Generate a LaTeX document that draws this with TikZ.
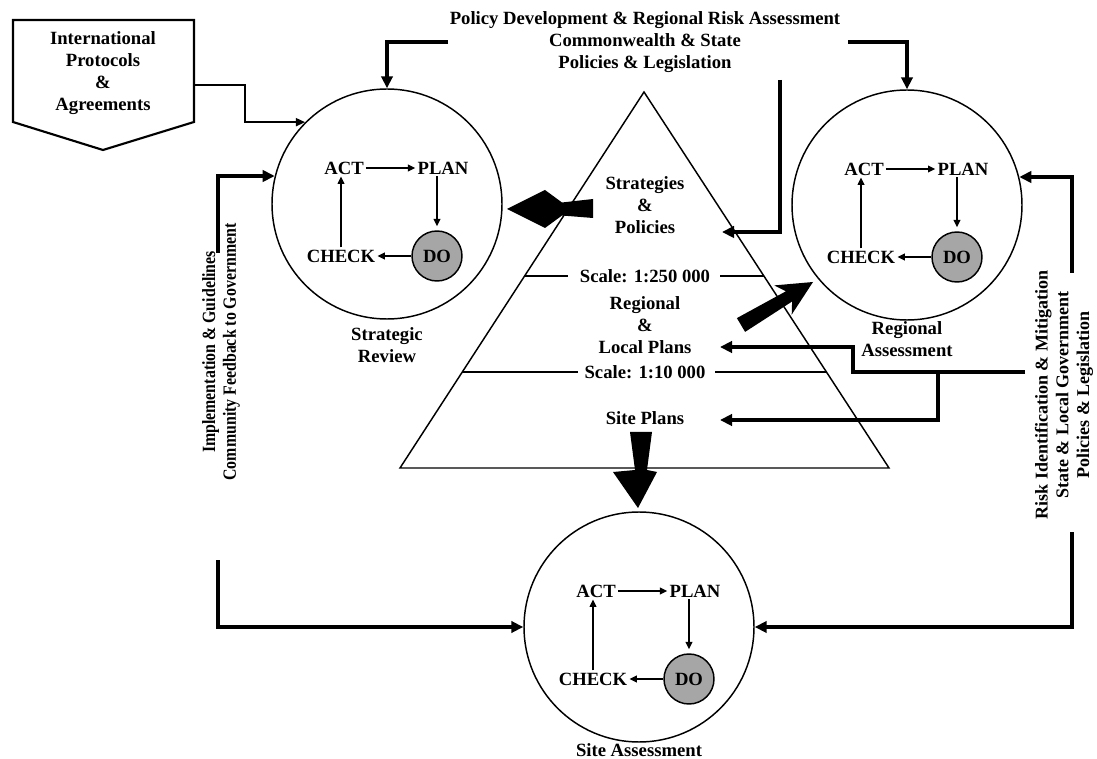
\documentclass[tikz,border=0pt]{standalone}
\usepackage{fontspec}
\setmainfont{Liberation Serif}
\newfontfamily\condserif[FakeStretch=0.85]{Liberation Serif}
\usetikzlibrary{arrows.meta,calc}
\newcommand\pdcaset[3]{%
  \node[lbl] (#1act) at (#2-43,#3-36) {ACT};
  \node[lbl] (#1plan) at (#2+56,#3-36) {PLAN};
  \node[lbl] (#1check) at (#2-46,#3+52) {CHECK};
  \node[docirc] (#1do) at (#2+50,#3+52) {DO};
  \draw[smallarr] (#1act) -- (#1plan);
  \draw[smallarr, shorten >=3pt] (#1do.north |- #1plan.south) -- (#1do.north);
  \draw[smallarr] (#1do) -- (#1check);
  \draw[smallarr] (#1check.north) -- (#1check.north |- #1act.south);
}
\tikzset{
  lbl/.style={font=\fontsize{14}{16.5}\selectfont\bfseries, align=center, inner sep=1.5pt},
  rlbl/.style={font=\fontsize{13.5}{15.5}\selectfont\bfseries, align=center, inner sep=1pt},
  bigcirc/.style={draw, circle, line width=1.1pt, minimum size=172.5pt, inner sep=0pt},
  docirc/.style={draw, circle, fill=black!35, line width=1.1pt, minimum size=37.5pt, inner sep=0pt,
    font=\fontsize{14}{16}\selectfont\bfseries},
  conn/.style={line width=2.3pt, -{Triangle[length=9pt,width=8.5pt]}},
  thinconn/.style={line width=1.5pt, -{Triangle[length=7pt,width=6pt]}},
  smallarr/.style={line width=1.1pt, -{Triangle[length=5.5pt,width=5pt]}},
  edgeline/.style={line width=1.1pt},
  bigarrow/.style={fill=black, draw=none},
}
\begin{document}
\begin{tikzpicture}[x=0.75pt,y=-0.75pt]
\useasboundingbox (0,0) rectangle (1097,759);

% pentagon
\draw[line width=1.6pt] (13,20) -- (194,20) -- (194,122) -- (103,150) -- (13,122) -- cycle;
\node[lbl] (ipa) at (103,73) {International\\Protocols\\\&\\Agreements};
\coordinate (ipaout) at (194,85);

% circles
\node[bigcirc] (sr) at (387,204) {};
\node[bigcirc] (ra) at (907,205) {};
\node[bigcirc] (site) at (639,627) {};
\pdcaset{sr}{387}{204}
\pdcaset{ra}{907}{205}
\pdcaset{st}{639}{627}
\node[lbl] (srlbl) at (387,345) {Strategic\\Review};
\node[lbl] (ralbl) at (907,339) {Regional\\Assessment};
\node[lbl] (stlbl) at (639,750) {Site Assessment};

% title
\node[lbl] (title) at (645,42) {Policy Development \& Regional Risk Assessment\\Commonwealth \& State\\Policies \& Legislation};

% triangle
\coordinate (apex) at (644,92);
\coordinate (bl) at (400,468);
\coordinate (br) at (889,468);
\draw[edgeline, line join=miter] (apex) -- (br) -- (bl) -- cycle;
\node[lbl] (strat) at (645,205) {Strategies\\\&\\Policies};
\node[lbl] (sc1) at (645,276) {Scale: 1:250 000};
\node[lbl] (rlp) at (645,325) {Regional\\\&\\Local Plans};
\node[lbl] (sc2) at (645,372) {Scale: 1:10 000};
\node[lbl] (sp) at (645,418) {Site Plans};
\draw[edgeline] (524.6,276) -- (568,276);
\draw[edgeline] (720,276) -- (764,276);
\draw[edgeline] (462,372) -- (578,372);
\draw[edgeline] (715,372) -- (826,372);

% big arrows
\fill[bigarrow] (593,199) -- (562,202.5) -- (545,190) -- (507,209) -- (545,228) -- (562,215.5) -- (593,218) -- cycle;
\fill[bigarrow] (736.9,318.1) -- (785.9,291.3) -- (774.3,285.4) -- (813,282) -- (791.7,314.6) -- (792.1,301.5) -- (745.1,331.9) -- cycle;
\fill[bigarrow] (630,432) -- (652,432) -- (647,470) -- (657,472) -- (638,508) -- (613,472) -- (635,470) -- cycle;

% connectors
\draw[thinconn] (ipaout) -- (245,85) |- (sr.135);
\coordinate (tl) at (448,42);
\coordinate (tr) at (848,42);
\draw[conn] (tl) -| (sr.north);
\draw[conn] (tr) -| (ra.north);
\coordinate (vtop) at (780,80);
\coordinate (spol) at (722,232);
\draw[conn] (vtop) |- (spol);

\coordinate (lup) at (218,253);
\coordinate (ldown) at (218,560);
\draw[conn] (lup) |- (sr.166);
\draw[conn] (ldown) |- (site.west);
\coordinate (rup) at (1072,273);
\coordinate (rdown) at (1072,532);
\draw[conn] (rup) |- (ra.14);
\draw[conn] (rdown) |- (site.east);

\coordinate (rmid) at (1025,372);
\coordinate (lpend) at (720,347);
\coordinate (spend) at (720,420);
\draw[conn] (rmid) -- (853,372) -- (853,347) -- (lpend);
\draw[conn] (938,372) |- (spend);

% rotated texts
\node[rlbl, font=\fontsize{14}{15.5}\selectfont\bfseries\condserif, rotate=90] (lefttext) at (221,352) {Implementation \& Guidelines\\Community Feedback to Government};
\node[rlbl, rotate=90] (righttext) at (1064,395) {Risk Identification \& Mitigation\\State \& Local Government\\Policies \& Legislation};
\end{tikzpicture}
\end{document}
